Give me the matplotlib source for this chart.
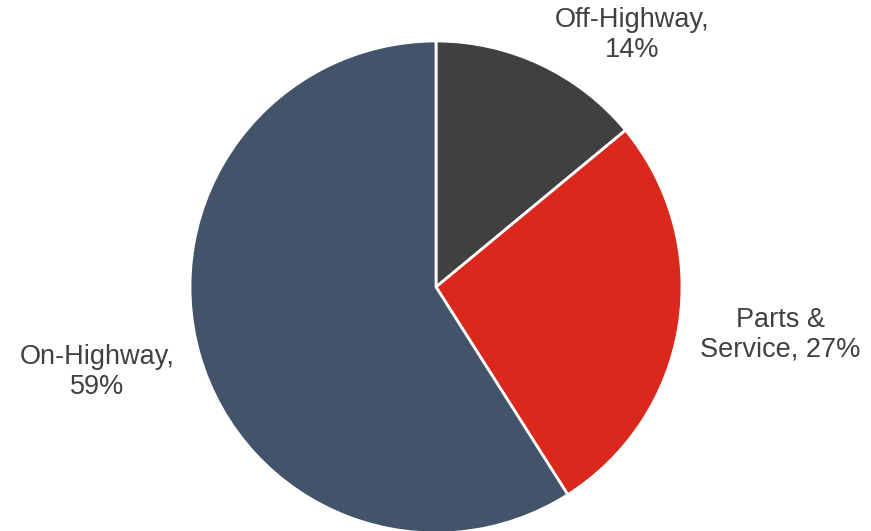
import matplotlib.pyplot as plt

segments = ["Off-Highway", "Parts & Service", "On-Highway"]
shares = [14, 27, 59]
label_text = ["Off-Highway,\n14%", "Parts &\nService, 27%", "On-Highway,\n59%"]
colors = ["#404040", "#DA291C", "#435369"]

plt.rcParams['font.family'] = ['Liberation Sans', 'DejaVu Sans']

W, H = 871, 531
fig = plt.figure(figsize=(W / 100, H / 100), dpi=100)
ax = fig.add_axes([0, 0, 1, 1])

# pixel coordinates, y measured from the bottom
ax.pie(shares, colors=colors, startangle=90, counterclock=False,
       center=(436, H - 287), radius=246, frame=True,
       wedgeprops=dict(edgecolor="white", linewidth=2))

label_pos = [(632, H - 35), (780, H - 335), (97, H - 372)]
for txt, (x, y) in zip(label_text, label_pos):
    ax.text(x, y, txt, ha="center", va="center", fontsize=19.5,
            color="#404040", linespacing=1.2)

ax.set_xlim(0, W)
ax.set_ylim(0, H)
ax.set_aspect("equal")
ax.axis("off")

fig.savefig("out.png", dpi=100)
